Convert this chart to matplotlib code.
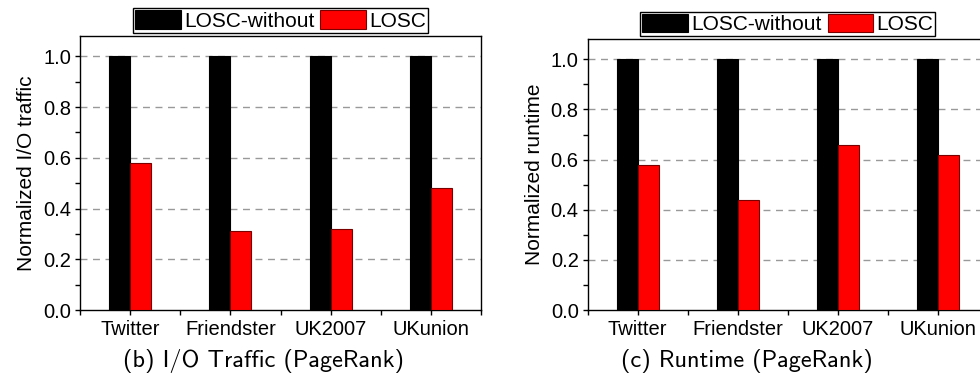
import numpy as np
import matplotlib
matplotlib.use("Agg")
from matplotlib import pyplot as plt
from matplotlib.ticker import FixedLocator, MultipleLocator

# data
datasets = ["Twitter", "Friendster", "UK2007", "UKunion"]
series_names = ["LOSC-without", "LOSC"]
io_without = [1.0, 1.0, 1.0, 1.0]
io_losc = [0.58, 0.31, 0.32, 0.48]
rt_without = [1.0, 1.0, 1.0, 1.0]
rt_losc = [0.58, 0.44, 0.66, 0.62]

plt.rcParams["font.family"] = ["Liberation Sans", "DejaVu Sans"]

W, H = 980, 374
fig = plt.figure(figsize=(W / 100, H / 100), dpi=100)


def px_axes(x0, y_top, x1, y_bot):
    return fig.add_axes([x0 / W, 1 - y_bot / H, (x1 - x0) / W, (y_bot - y_top) / H])


def draw_panel(ax, without, losc, ylabel):
    x = np.arange(len(datasets))
    w = 0.21
    ax.bar(x - w / 2, without, w, color="black", edgecolor="black", linewidth=0.8,
           label=series_names[0], zorder=3)
    ax.bar(x + w / 2, losc, w, color="#ff0000", edgecolor="#7a0000", linewidth=0.8,
           label=series_names[1], zorder=3)

    ax.set_xlim(-0.5, len(datasets) - 0.5)
    ax.set_ylim(0, 1.08)
    ax.set_xticks(x)
    ax.set_xticklabels(datasets, fontsize=14.5)
    ax.xaxis.set_minor_locator(FixedLocator(np.arange(-0.5, len(datasets), 1.0)))
    ax.yaxis.set_minor_locator(MultipleLocator(0.1))
    ax.set_yticks(np.arange(0, 1.01, 0.2))
    ax.set_yticklabels([f"{v:.1f}" for v in np.arange(0, 1.01, 0.2)], fontsize=14.5)
    ax.tick_params(which="both", direction="out", length=3.5, width=1, top=False, right=False)
    ax.tick_params(axis="x", pad=4)
    ax.tick_params(axis="y", pad=3)

    for yv in np.arange(0.2, 1.01, 0.2):
        ax.axhline(yv, color="#999999", linestyle=(0, (5, 4)), linewidth=1, zorder=1)

    for s in ax.spines.values():
        s.set_linewidth(1)
    ax.set_ylabel(ylabel, fontsize=15, labelpad=5)

    ax.legend(loc="lower center", bbox_to_anchor=(0.5, 1.0), ncol=2, fontsize=15,
              frameon=True, fancybox=False, edgecolor="black", framealpha=1,
              handlelength=2.2, handleheight=1.0, handletextpad=0.15,
              columnspacing=0.3, borderpad=0.1, borderaxespad=0.15)
    ax.get_legend().get_frame().set_linewidth(1)


ax1 = px_axes(80, 36, 481, 310)
draw_panel(ax1, io_without, io_losc, "Normalized I/O traffic")

ax2 = px_axes(587.7, 39.3, 987.7, 310)
draw_panel(ax2, rt_without, rt_losc, "Normalized runtime")

fig.text(263 / W, 1 - 361 / H, "(b) I/O Traffic (PageRank)", ha="center", va="center",
         fontsize=17.5, family="cmss10")
fig.text(747 / W, 1 - 361 / H, "(c) Runtime (PageRank)", ha="center", va="center",
         fontsize=17.5, family="cmss10")

fig.savefig("out.png", dpi=100)
